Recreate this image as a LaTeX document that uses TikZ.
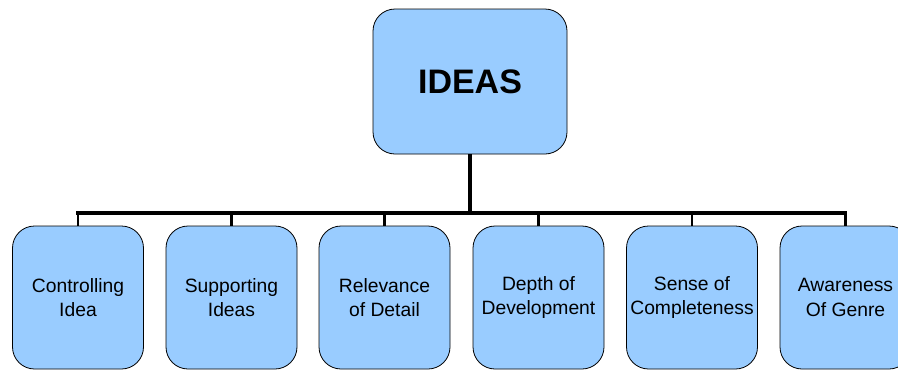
\documentclass[tikz,border=0pt]{standalone}
\usepackage{fontspec}
\setmainfont{Liberation Sans}
\usetikzlibrary{positioning}
\definecolor{boxblue}{HTML}{99CCFF}
\tikzset{
    topnode/.style = {rectangle, rounded corners=22pt, draw=black, line width=0.8pt, fill=boxblue, align=center, minimum width=194pt, minimum height=145pt, inner sep=0pt, font=\fontsize{34}{40}\selectfont\bfseries},
    subnode/.style = {rectangle, rounded corners=22pt, draw=black, line width=0.8pt, fill=boxblue, align=center, minimum width=131pt, minimum height=143pt, inner sep=0pt, font=\fontsize{19.3}{24.5}\selectfont},
    edgem/.style = {-, line width=3.2pt, black},
    edges/.style = {-, line width=2.6pt, black}
}
\begin{document}
\begin{tikzpicture}[x=1pt,y=-1pt]
\clip (0,0) rectangle (898,370);
\fill[white] (0,0) rectangle (898,370);

\node[topnode] at (470, 81.5) (ideas) {IDEAS};
\node[subnode] at ( 78.0, 297.5) (c1) {Controlling\\Idea};
\node[subnode] at (231.5, 297.5) (c2) {Supporting\\Ideas};
\node[subnode] at (384.5, 297.5) (c3) {Relevance\\of Detail};
\node[subnode] at (538.5, 297.5) (c4) {Depth of\\Development};
\node[subnode] at (692.0, 297.5) (c5) {Sense of\\Completeness};
\node[subnode] at (845.5, 297.5) (c6) {Awareness\\Of Genre};

\coordinate (bus) at (470, 213);
\coordinate (busl) at (78, 213);
\coordinate (busr) at (845.5, 213);
\draw[edgem] (ideas.south) -- (bus);
\draw[edgem, line cap=rect] (busl) -- (busr);
\foreach \i in {1,...,6}
    \draw[edges] (bus) -| (c\i.north);

\end{tikzpicture}
\end{document}
